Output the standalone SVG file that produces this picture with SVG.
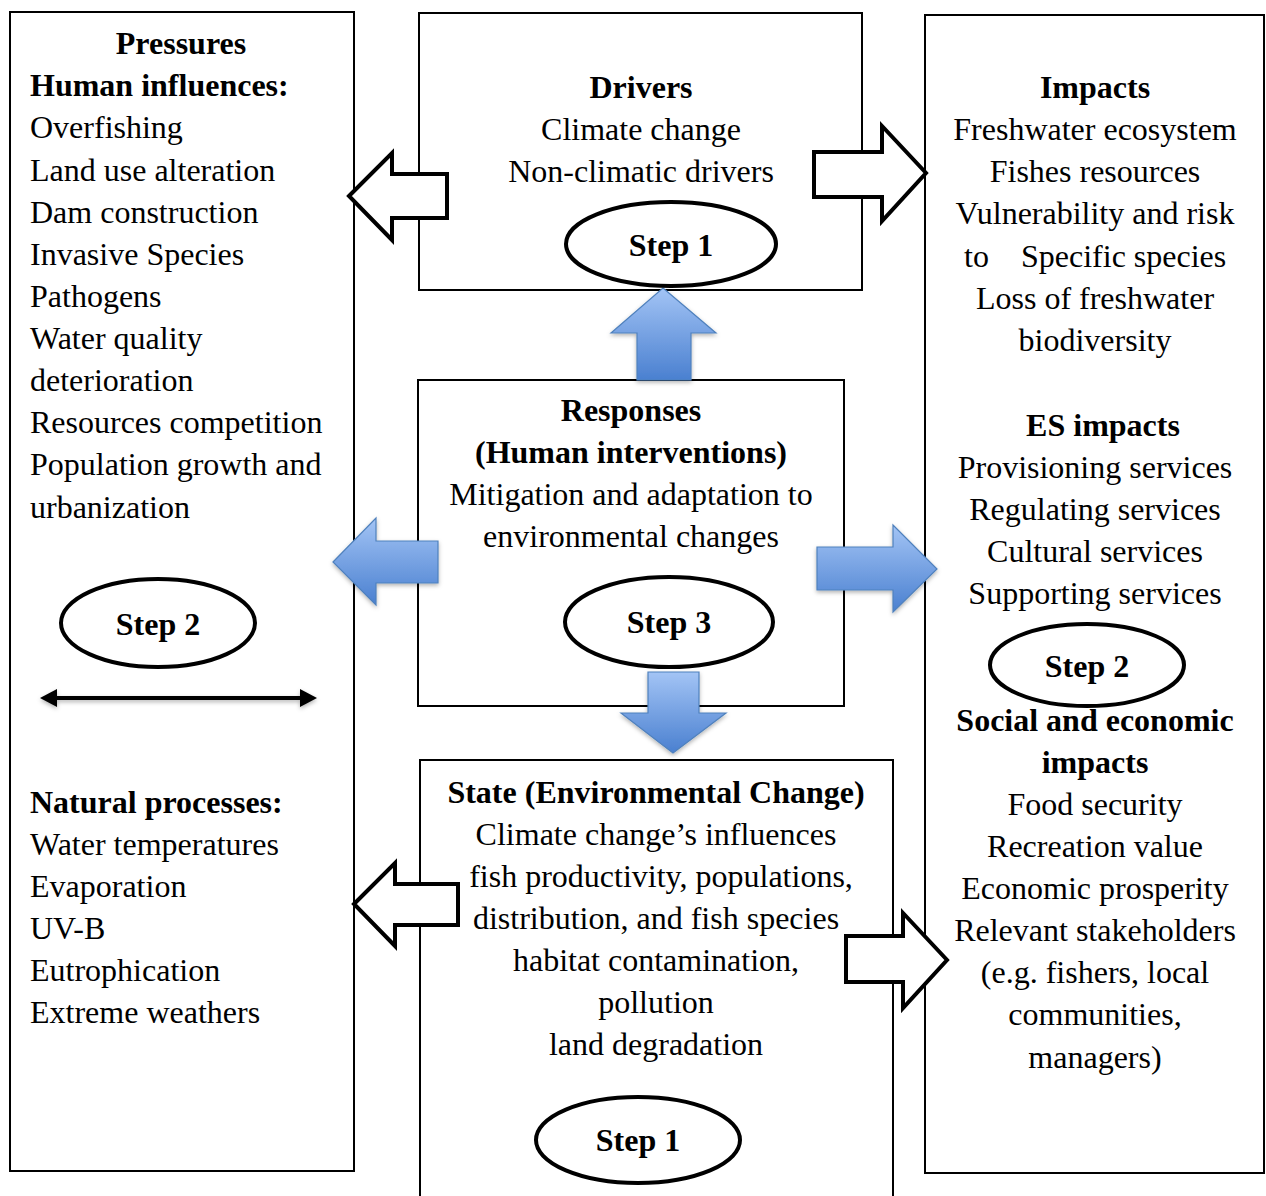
<svg xmlns="http://www.w3.org/2000/svg" width="1266" height="1196" viewBox="0 0 1266 1196">
<defs>
<linearGradient id="blueV" x1="0" y1="0" x2="0" y2="1">
<stop offset="0" stop-color="#a3c4f5"/>
<stop offset="1" stop-color="#4a80d0"/>
</linearGradient>
<filter id="sh" x="-20%" y="-20%" width="140%" height="150%">
<feDropShadow dx="0" dy="2" stdDeviation="2" flood-color="#000" flood-opacity="0.3"/>
</filter>
</defs>
<style>
.box{fill:#fff;stroke:#000;stroke-width:2}
.ol{fill:#fff;stroke:#000;stroke-width:4;stroke-linejoin:miter}
.bl{fill:url(#blueV);stroke:#4f81bd;stroke-width:1.2;filter:url(#sh)}
.el{fill:#fff;stroke:#000;stroke-width:4}
text{font-family:"Liberation Serif","Times New Roman",serif;font-size:32px;fill:#000}
.b{font-weight:bold}
.c{text-anchor:middle}
</style>
<rect width="1266" height="1196" fill="#fff"/>
<g id="pressures">
<rect class="box" x="10" y="12" width="344" height="1159"/>
<text class="b c" x="181" y="54">Pressures</text>
<text class="b" x="30" y="96">Human influences:</text>
<text x="30" y="138">Overfishing</text>
<text x="30" y="181">Land use alteration</text>
<text x="30" y="223">Dam construction</text>
<text x="30" y="265">Invasive Species</text>
<text x="30" y="307">Pathogens</text>
<text x="30" y="349">Water quality</text>
<text x="30" y="391">deterioration</text>
<text x="30" y="433">Resources competition</text>
<text x="30" y="475">Population growth and</text>
<text x="30" y="518">urbanization</text>
<text class="b" x="30" y="813">Natural processes:</text>
<text x="30" y="855">Water temperatures</text>
<text x="30" y="897">Evaporation</text>
<text x="30" y="939">UV-B</text>
<text x="30" y="981">Eutrophication</text>
<text x="30" y="1023">Extreme weathers</text>
</g>
<g id="drivers">
<rect class="box" x="419" y="13" width="443" height="277"/>
<text class="b c" x="641" y="98">Drivers</text>
<text class="c" x="641" y="140">Climate change</text>
<text class="c" x="641" y="182">Non-climatic drivers</text>
</g>
<g id="impacts">
<rect class="box" x="925" y="15" width="339" height="1158"/>
<text class="b c" x="1095" y="98">Impacts</text>
<text class="c" x="1095" y="140">Freshwater ecosystem</text>
<text class="c" x="1095" y="182">Fishes resources</text>
<text class="c" x="1095" y="224">Vulnerability and risk</text>
<text x="964" y="267">to</text>
<text x="1021" y="267">Specific species</text>
<text class="c" x="1095" y="309">Loss of freshwater</text>
<text class="c" x="1095" y="351">biodiversity</text>
<text class="b c" x="1103" y="436">ES impacts</text>
<text class="c" x="1095" y="478">Provisioning services</text>
<text class="c" x="1095" y="520">Regulating services</text>
<text class="c" x="1095" y="562">Cultural services</text>
<text class="c" x="1095" y="604">Supporting services</text>
<text class="b c" x="1095" y="731">Social and economic</text>
<text class="b c" x="1095" y="773">impacts</text>
<text class="c" x="1095" y="815">Food security</text>
<text class="c" x="1095" y="857">Recreation value</text>
<text class="c" x="1095" y="899">Economic prosperity</text>
<text class="c" x="1095" y="941">Relevant stakeholders</text>
<text class="c" x="1095" y="983">(e.g. fishers, local</text>
<text class="c" x="1095" y="1025">communities,</text>
<text class="c" x="1095" y="1068">managers)</text>
</g>
<g id="responses">
<rect class="box" x="418" y="380" width="426" height="326"/>
<text class="b c" x="631" y="421">Responses</text>
<text class="b c" x="631" y="463">(Human interventions)</text>
<text class="c" x="631" y="505">Mitigation and adaptation to</text>
<text class="c" x="631" y="547">environmental changes</text>
</g>
<g id="state">
<rect class="box" x="420" y="760" width="473" height="440"/>
<text class="b c" x="656" y="803">State (Environmental Change)</text>
<text class="c" x="656" y="845">Climate change’s influences</text>
<text class="c" x="661" y="887">fish productivity, populations,</text>
<text class="c" x="656" y="929">distribution, and fish species</text>
<text class="c" x="656" y="971">habitat contamination,</text>
<text class="c" x="656" y="1013">pollution</text>
<text class="c" x="656" y="1055">land degradation</text>
</g>
<g id="connectors">
<polygon class="ol" points="349,196 392,153 392,174 447,174 447,218 392,218 392,240"/>
<polygon class="ol" points="814,152 882,152 882,126 926,173 882,221 882,197 814,197"/>
<polygon class="ol" points="354,904 395,863 395,884 458,884 458,925 395,925 395,946"/>
<polygon class="ol" points="846,936 903,936 903,913 947,960 903,1008 903,982 846,982"/>
<polygon class="bl" points="663,288 716,333 691,333 691,380 637,380 637,333 611,333"/>
<polygon class="bl" points="333,562 376,518 376,541 438,541 438,583 376,583 376,605"/>
<polygon class="bl" points="817,547 893,547 893,525 937,569 893,612 893,590 817,590"/>
<polygon class="bl" points="648,672 699,672 699,713 726,713 673,753 621,713 648,713"/>
<g filter="url(#sh)">
<line x1="52" y1="698" x2="305" y2="698" stroke="#000" stroke-width="4"/>
<polygon points="40,698 57,689 57,707" fill="#000"/>
<polygon points="317,698 300,689 300,707" fill="#000"/>
</g>
</g>
<g id="step1-top">
<ellipse class="el" cx="671" cy="244" rx="105" ry="42"/>
<text class="b c" x="671" y="256">Step 1</text>
</g>
<g id="step2-left">
<ellipse class="el" cx="158" cy="623" rx="97" ry="44"/>
<text class="b c" x="158" y="635">Step 2</text>
</g>
<g id="step3">
<ellipse class="el" cx="669" cy="622" rx="104" ry="45"/>
<text class="b c" x="669" y="633">Step 3</text>
</g>
<g id="step2-right">
<ellipse class="el" cx="1087" cy="665" rx="97" ry="41"/>
<text class="b c" x="1087" y="677">Step 2</text>
</g>
<g id="step1-bottom">
<ellipse class="el" cx="638" cy="1140" rx="102" ry="43"/>
<text class="b c" x="638" y="1151">Step 1</text>
</g>
</svg>
